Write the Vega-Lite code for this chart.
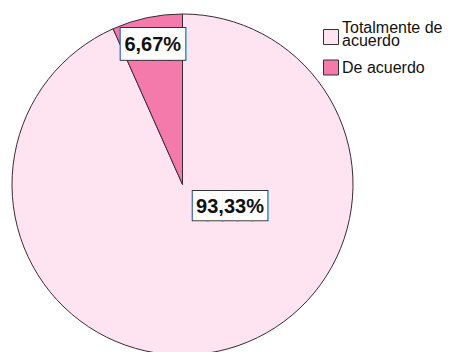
{
  "$schema": "https://vega.github.io/schema/vega-lite/v6.json",
  "width": 341,
  "height": 341,
  "padding": {"left": 12, "top": 14, "right": 98, "bottom": 0},
  "autosize": {"type": "none"},
  "background": "white",
  "config": {
    "view": {"stroke": null},
    "style": {"guide-label": {"lineHeight": 13}}
  },
  "data": {
    "values": [
      {"respuesta": "Totalmente de acuerdo", "porcentaje": 93.33, "etiqueta": "93,33%"},
      {"respuesta": "De acuerdo", "porcentaje": 6.67, "etiqueta": "6,67%"}
    ]
  },
  "encoding": {
    "theta": {"field": "porcentaje", "type": "quantitative", "stack": true},
    "order": {"field": "porcentaje", "sort": "descending"}
  },
  "layer": [
    {
      "mark": {"type": "arc", "stroke": "#3a2a33", "strokeWidth": 1},
      "encoding": {
        "color": {
          "field": "respuesta",
          "type": "nominal",
          "sort": ["Totalmente de acuerdo", "De acuerdo"],
          "scale": {"domain": ["Totalmente de acuerdo", "De acuerdo"], "range": ["#fde4f0", "#f57aac"]},
          "legend": {
            "title": null,
            "orient": "none",
            "legendX": 311,
            "legendY": 15,
            "symbolType": "square",
            "symbolSize": 225,
            "symbolStrokeColor": "#333333",
            "symbolStrokeWidth": 1,
            "labelFont": "Liberation Sans",
            "labelFontSize": 16,
            "labelColor": "#111111",
            "labelOffset": 3,
            "rowPadding": 8.5,
            "labelExpr": "datum.label == 'Totalmente de acuerdo' ? ['Totalmente de', 'acuerdo'] : datum.label",
            "encode": {
              "labels": {"update": {"dy": {"signal": "datum.label == 'Totalmente de acuerdo' ? -9 : 0"}}}
            }
          }
        }
      }
    },
    {
      "mark": {"type": "text", "radius": 143, "align": "center", "baseline": "middle", "font": "DejaVu Sans Mono", "fontSize": 26.6, "fill": "#333333", "stroke": "#333333", "strokeWidth": 2},
      "encoding": {
        "detail": {"field": "respuesta", "type": "nominal"},
        "text": {"condition": {"test": "datum.respuesta == 'De acuerdo'", "value": "████"}, "value": ""}
      }
    },
    {
      "mark": {"type": "text", "radius": 143, "align": "center", "baseline": "middle", "font": "DejaVu Sans Mono", "fontSize": 26.6, "fill": "#ffffff"},
      "encoding": {
        "detail": {"field": "respuesta", "type": "nominal"},
        "text": {"condition": {"test": "datum.respuesta == 'De acuerdo'", "value": "████"}, "value": ""}
      }
    },
    {
      "mark": {"type": "text", "radius": 143, "align": "center", "baseline": "middle", "font": "Liberation Sans", "fontWeight": "bold", "fontSize": 20, "fill": "#111111"},
      "encoding": {
        "detail": {"field": "respuesta", "type": "nominal"},
        "text": {"condition": {"test": "datum.respuesta == 'De acuerdo'", "field": "etiqueta"}, "value": ""}
      }
    },
    {
      "mark": {"type": "text", "radius": 52.5, "thetaOffset": -0.923, "align": "center", "baseline": "middle", "font": "DejaVu Sans Mono", "fontSize": 24.6, "fill": "#333333", "stroke": "#333333", "strokeWidth": 2},
      "encoding": {
        "detail": {"field": "respuesta", "type": "nominal"},
        "text": {"condition": {"test": "datum.respuesta == 'Totalmente de acuerdo'", "value": "█████"}, "value": ""}
      }
    },
    {
      "mark": {"type": "text", "radius": 52.5, "thetaOffset": -0.923, "align": "center", "baseline": "middle", "font": "DejaVu Sans Mono", "fontSize": 24.6, "fill": "#ffffff"},
      "encoding": {
        "detail": {"field": "respuesta", "type": "nominal"},
        "text": {"condition": {"test": "datum.respuesta == 'Totalmente de acuerdo'", "value": "█████"}, "value": ""}
      }
    },
    {
      "mark": {"type": "text", "radius": 52.5, "thetaOffset": -0.923, "align": "center", "baseline": "middle", "font": "Liberation Sans", "fontWeight": "bold", "fontSize": 20, "fill": "#111111"},
      "encoding": {
        "detail": {"field": "respuesta", "type": "nominal"},
        "text": {"condition": {"test": "datum.respuesta == 'Totalmente de acuerdo'", "field": "etiqueta"}, "value": ""}
      }
    }
  ]
}
